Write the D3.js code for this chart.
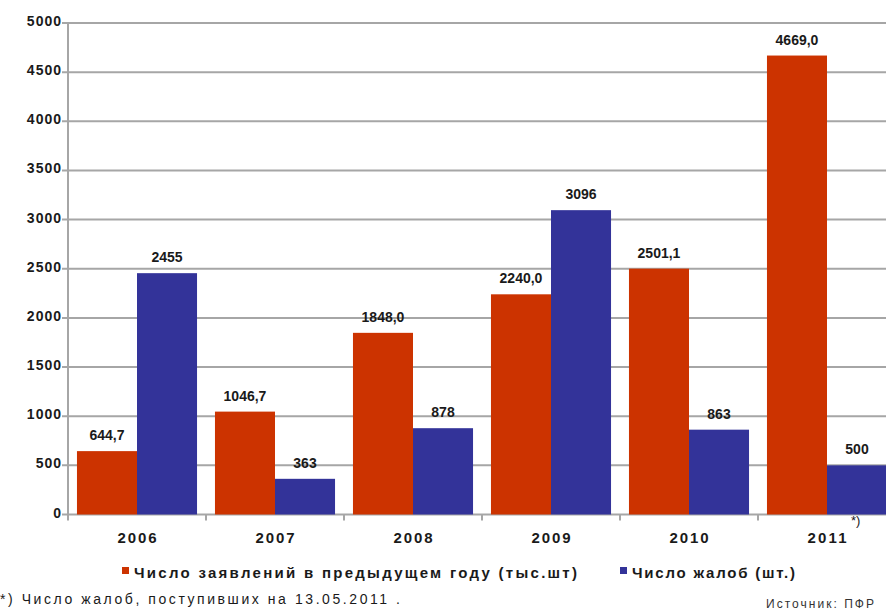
<!DOCTYPE html>
<html>
<head>
<meta charset="utf-8">
<script src="https://cdn.jsdelivr.net/npm/d3@7"></script>
<style>
  body { margin: 0; background: #fff; }
  svg text { font-family: "Liberation Sans", Arial, sans-serif; }
</style>
</head>
<body>
<script>
//chart data
var years = ["2006", "2007", "2008", "2009", "2010", "2011"];
var applications = [644.7, 1046.7, 1848.0, 2240.0, 2501.1, 4669.0];
var complaints = [2455, 363, 878, 3096, 863, 500];
var yTicks = [0, 500, 1000, 1500, 2000, 2500, 3000, 3500, 4000, 4500, 5000];
var seriesNames = ["Число заявлений в предыдущем году (тыс.шт)", "Число жалоб (шт.)"];
var colors = ["#cc3300", "#333399"];

window.onload = drawChart();

function drawChart(){
    var width = 886,
        height = 612;

    var svg = d3.select("body")
        .append("svg")
        .attr("width", width)
        .attr("height", height);

    //plot area runs past the right edge, like the original picture
    var x = d3.scaleBand()
        .domain(years)
        .range([68, 896])
        .paddingInner(0.13)
        .paddingOuter(0.065);

    var xTick = d3.scaleBand()
        .domain(years)
        .range([68, 896]);

    var y = d3.scaleLinear()
        .domain([0, 5000])
        .range([514.5, 23]);

    //gridlines
    svg.append("g")
        .selectAll("line")
        .data(yTicks)
        .enter()
        .append("line")
        .attr("x1", 62)
        .attr("x2", width)
        .attr("y1", function(d){ return y(d); })
        .attr("y2", function(d){ return y(d); })
        .attr("stroke", "#a6a6a6")
        .attr("stroke-width", 2);

    //y labels
    svg.append("g")
        .selectAll("text")
        .data(yTicks)
        .enter()
        .append("text")
        .attr("x", 62)
        .attr("y", function(d){ return y(d) + 3; })
        .attr("text-anchor", "end")
        .attr("font-size", 14)
        .attr("font-weight", "bold")
        .attr("letter-spacing", 1)
        .attr("fill", "#1a1a1a")
        .text(function(d){ return d; });

    //bars
    var inner = d3.scaleBand()
        .domain([0, 1])
        .range([0, x.bandwidth()]);

    var series = [applications, complaints];
    var groups = svg.append("g")
        .selectAll("g")
        .data(series)
        .enter()
        .append("g")
        .attr("fill", function(d, i){ return colors[i]; });

    groups.selectAll("rect")
        .data(function(d, i){ return d.map(function(v, j){ return {v: v, s: i, year: years[j]}; }); })
        .enter()
        .append("rect")
        .attr("x", function(d){ return x(d.year) + inner(d.s); })
        .attr("y", function(d){ return y(d.v); })
        .attr("width", inner.bandwidth())
        .attr("height", function(d){ return y(0) - y(d.v); });

    groups.selectAll("text")
        .data(function(d, i){ return d.map(function(v, j){ return {v: v, s: i, year: years[j]}; }); })
        .enter()
        .append("text")
        .attr("x", function(d){ return x(d.year) + inner(d.s) + inner.bandwidth() / 2; })
        .attr("y", function(d){ return y(d.v) - 11; })
        .attr("text-anchor", "middle")
        .attr("font-size", 14)
        .attr("font-weight", "bold")
        .attr("fill", "#1a1a1a")
        .text(function(d){
            return d.s === 0 ? d.v.toFixed(1).replace(".", ",") : d.v;
        });

    //y axis line
    svg.append("line")
        .attr("x1", 68).attr("x2", 68)
        .attr("y1", y(5000)).attr("y2", y(0) + 6)
        .attr("stroke", "#a6a6a6")
        .attr("stroke-width", 2);

    //x axis ticks
    svg.append("g")
        .selectAll("line")
        .data(years.slice(1))
        .enter()
        .append("line")
        .attr("x1", function(d){ return xTick(d); })
        .attr("x2", function(d){ return xTick(d); })
        .attr("y1", y(0))
        .attr("y2", y(0) + 6)
        .attr("stroke", "#a6a6a6")
        .attr("stroke-width", 2);

    //x labels
    svg.append("g")
        .selectAll("text")
        .data(years)
        .enter()
        .append("text")
        .attr("x", function(d){ return xTick(d) + xTick.bandwidth() / 2; })
        .attr("y", 543)
        .attr("text-anchor", "middle")
        .attr("font-size", 15)
        .attr("font-weight", "bold")
        .attr("textLength", 39)
        .attr("lengthAdjust", "spacing")
        .attr("fill", "#1a1a1a")
        .text(function(d){ return d; });

    svg.append("text")
        .attr("x", 851)
        .attr("y", 525)
        .attr("font-size", 13)
        .attr("fill", "#1a1a1a")
        .text("*)");

    //legend
    var legendX = [122, 620];
    var legendLen = [443, 163];
    var legend = svg.append("g")
        .selectAll("g")
        .data(seriesNames)
        .enter()
        .append("g")
        .attr("transform", function(d, i){ return "translate(" + legendX[i] + ",572)"; });

    legend.append("rect")
        .attr("x", 0)
        .attr("y", -5)
        .attr("width", 7)
        .attr("height", 7)
        .attr("fill", function(d, i){ return colors[i]; });

    legend.append("text")
        .attr("x", 12)
        .attr("y", 6)
        .attr("font-size", 15)
        .attr("font-weight", "bold")
        .attr("textLength", function(d, i){ return legendLen[i]; })
        .attr("lengthAdjust", "spacing")
        .attr("fill", "#1a1a1a")
        .text(function(d){ return d; });

    //footnote and source
    svg.append("text")
        .attr("x", 0)
        .attr("y", 604)
        .attr("font-size", 14)
        .attr("textLength", 400)
        .attr("lengthAdjust", "spacing")
        .attr("fill", "#1a1a1a")
        .text("*) Число жалоб, поступивших на 13.05.2011 .");

    svg.append("text")
        .attr("x", 766)
        .attr("y", 608)
        .attr("font-size", 12)
        .attr("textLength", 108)
        .attr("lengthAdjust", "spacing")
        .attr("fill", "#333")
        .text("Источник: ПФР");
}
</script>
</body>
</html>
